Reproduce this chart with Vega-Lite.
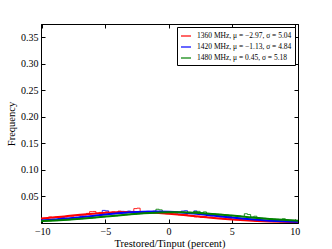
{
  "$schema": "https://vega.github.io/schema/vega-lite/v6.json",
  "width": 257,
  "height": 199,
  "autosize": "none",
  "padding": {"left": 41, "top": 24, "right": 34, "bottom": 26},
  "background": "white",
  "config": {
    "view": {"stroke": "black", "strokeWidth": 1},
    "font": "Liberation Serif",
    "axis": {"grid": false, "domainColor": "black", "tickColor": "black", "labelColor": "black", "titleColor": "black", "labelFont": "Liberation Serif", "titleFont": "Liberation Serif", "labelFontSize": 10, "titleFontSize": 10.5, "titleFontWeight": "normal", "tickSize": -4, "labelPadding": 7}
  },
  "datasets": {
    "hist": [
      {"f":"1360","x":-10.00,"y":0.0082},{"f":"1360","x":-9.75,"y":0.0078},{"f":"1360","x":-9.50,"y":0.0104},{"f":"1360","x":-9.25,"y":0.0088},
      {"f":"1360","x":-9.00,"y":0.0101},{"f":"1360","x":-8.75,"y":0.0096},{"f":"1360","x":-8.50,"y":0.0110},{"f":"1360","x":-8.25,"y":0.0102},
      {"f":"1360","x":-8.00,"y":0.0124},{"f":"1360","x":-7.75,"y":0.0118},{"f":"1360","x":-7.50,"y":0.0129},{"f":"1360","x":-7.25,"y":0.0135},
      {"f":"1360","x":-7.00,"y":0.0148},{"f":"1360","x":-6.75,"y":0.0140},{"f":"1360","x":-6.50,"y":0.0172},{"f":"1360","x":-6.25,"y":0.0205},
      {"f":"1360","x":-6.00,"y":0.0208},{"f":"1360","x":-5.75,"y":0.0176},{"f":"1360","x":-5.50,"y":0.0190},{"f":"1360","x":-5.25,"y":0.0182},
      {"f":"1360","x":-5.00,"y":0.0199},{"f":"1360","x":-4.75,"y":0.0186},{"f":"1360","x":-4.50,"y":0.0201},{"f":"1360","x":-4.25,"y":0.0192},
      {"f":"1360","x":-4.00,"y":0.0215},{"f":"1360","x":-3.75,"y":0.0188},{"f":"1360","x":-3.50,"y":0.0206},{"f":"1360","x":-3.25,"y":0.0197},
      {"f":"1360","x":-3.00,"y":0.0179},{"f":"1360","x":-2.75,"y":0.0262},{"f":"1360","x":-2.50,"y":0.0270},{"f":"1360","x":-2.25,"y":0.0195},
      {"f":"1360","x":-2.00,"y":0.0178},{"f":"1360","x":-1.75,"y":0.0200},{"f":"1360","x":-1.50,"y":0.0187},{"f":"1360","x":-1.25,"y":0.0209},
      {"f":"1360","x":-1.00,"y":0.0196},{"f":"1360","x":-0.75,"y":0.0176},{"f":"1360","x":-0.50,"y":0.0183},{"f":"1360","x":-0.25,"y":0.0165},
      {"f":"1360","x":0.00,"y":0.0170},{"f":"1360","x":0.25,"y":0.0158},{"f":"1360","x":0.50,"y":0.0162},{"f":"1360","x":0.75,"y":0.0145},
      {"f":"1360","x":1.00,"y":0.0138},{"f":"1360","x":1.25,"y":0.0150},{"f":"1360","x":1.50,"y":0.0128},{"f":"1360","x":1.75,"y":0.0121},
      {"f":"1360","x":2.00,"y":0.0106},{"f":"1360","x":2.25,"y":0.0118},{"f":"1360","x":2.50,"y":0.0098},{"f":"1360","x":2.75,"y":0.0112},
      {"f":"1360","x":3.00,"y":0.0094},{"f":"1360","x":3.25,"y":0.0102},{"f":"1360","x":3.50,"y":0.0085},{"f":"1360","x":3.75,"y":0.0078},
      {"f":"1360","x":4.00,"y":0.0084},{"f":"1360","x":4.25,"y":0.0070},{"f":"1360","x":4.50,"y":0.0062},{"f":"1360","x":4.75,"y":0.0073},
      {"f":"1360","x":5.00,"y":0.0058},{"f":"1360","x":5.25,"y":0.0052},{"f":"1360","x":5.50,"y":0.0060},{"f":"1360","x":5.75,"y":0.0046},
      {"f":"1360","x":6.00,"y":0.0043},{"f":"1360","x":6.25,"y":0.0038},{"f":"1360","x":6.50,"y":0.0040},{"f":"1360","x":6.75,"y":0.0031},
      {"f":"1360","x":7.00,"y":0.0029},{"f":"1360","x":7.25,"y":0.0025},{"f":"1360","x":7.50,"y":0.0027},{"f":"1360","x":7.75,"y":0.0020},
      {"f":"1360","x":8.00,"y":0.0020},{"f":"1360","x":8.25,"y":0.0016},{"f":"1360","x":8.50,"y":0.0017},{"f":"1360","x":8.75,"y":0.0013},
      {"f":"1360","x":9.00,"y":0.0012},{"f":"1360","x":9.25,"y":0.0011},{"f":"1360","x":9.50,"y":0.0009},{"f":"1360","x":9.75,"y":0.0008},
      {"f":"1360","x":10.00,"y":0.0008},

      {"f":"1420","x":-10.00,"y":0.0042},{"f":"1420","x":-9.75,"y":0.0045},{"f":"1420","x":-9.50,"y":0.0048},{"f":"1420","x":-9.25,"y":0.0052},
      {"f":"1420","x":-9.00,"y":0.0056},{"f":"1420","x":-8.75,"y":0.0080},{"f":"1420","x":-8.50,"y":0.0095},{"f":"1420","x":-8.25,"y":0.0068},
      {"f":"1420","x":-8.00,"y":0.0076},{"f":"1420","x":-7.75,"y":0.0082},{"f":"1420","x":-7.50,"y":0.0090},{"f":"1420","x":-7.25,"y":0.0094},
      {"f":"1420","x":-7.00,"y":0.0125},{"f":"1420","x":-6.75,"y":0.0108},{"f":"1420","x":-6.50,"y":0.0112},{"f":"1420","x":-6.25,"y":0.0118},
      {"f":"1420","x":-6.00,"y":0.0128},{"f":"1420","x":-5.75,"y":0.0132},{"f":"1420","x":-5.50,"y":0.0140},{"f":"1420","x":-5.25,"y":0.0228},
      {"f":"1420","x":-5.00,"y":0.0220},{"f":"1420","x":-4.75,"y":0.0160},{"f":"1420","x":-4.50,"y":0.0168},{"f":"1420","x":-4.25,"y":0.0172},
      {"f":"1420","x":-4.00,"y":0.0205},{"f":"1420","x":-3.75,"y":0.0210},{"f":"1420","x":-3.50,"y":0.0182},{"f":"1420","x":-3.25,"y":0.0215},
      {"f":"1420","x":-3.00,"y":0.0208},{"f":"1420","x":-2.75,"y":0.0192},{"f":"1420","x":-2.50,"y":0.0198},{"f":"1420","x":-2.25,"y":0.0205},
      {"f":"1420","x":-2.00,"y":0.0200},{"f":"1420","x":-1.75,"y":0.0210},{"f":"1420","x":-1.50,"y":0.0202},{"f":"1420","x":-1.25,"y":0.0212},
      {"f":"1420","x":-1.00,"y":0.0206},{"f":"1420","x":-0.75,"y":0.0204},{"f":"1420","x":-0.50,"y":0.0202},{"f":"1420","x":-0.25,"y":0.0200},
      {"f":"1420","x":0.00,"y":0.0201},{"f":"1420","x":0.25,"y":0.0196},{"f":"1420","x":0.50,"y":0.0194},{"f":"1420","x":0.75,"y":0.0189},
      {"f":"1420","x":1.00,"y":0.0215},{"f":"1420","x":1.25,"y":0.0222},{"f":"1420","x":1.50,"y":0.0190},{"f":"1420","x":1.75,"y":0.0180},
      {"f":"1420","x":2.00,"y":0.0218},{"f":"1420","x":2.25,"y":0.0176},{"f":"1420","x":2.50,"y":0.0168},{"f":"1420","x":2.75,"y":0.0158},
      {"f":"1420","x":3.00,"y":0.0150},{"f":"1420","x":3.25,"y":0.0142},{"f":"1420","x":3.50,"y":0.0148},{"f":"1420","x":3.75,"y":0.0128},
      {"f":"1420","x":4.00,"y":0.0122},{"f":"1420","x":4.25,"y":0.0110},{"f":"1420","x":4.50,"y":0.0102},{"f":"1420","x":4.75,"y":0.0115},
      {"f":"1420","x":5.00,"y":0.0094},{"f":"1420","x":5.25,"y":0.0088},{"f":"1420","x":5.50,"y":0.0080},{"f":"1420","x":5.75,"y":0.0076},
      {"f":"1420","x":6.00,"y":0.0070},{"f":"1420","x":6.25,"y":0.0064},{"f":"1420","x":6.50,"y":0.0058},{"f":"1420","x":6.75,"y":0.0054},
      {"f":"1420","x":7.00,"y":0.0050},{"f":"1420","x":7.25,"y":0.0046},{"f":"1420","x":7.50,"y":0.0042},{"f":"1420","x":7.75,"y":0.0038},
      {"f":"1420","x":8.00,"y":0.0035},{"f":"1420","x":8.25,"y":0.0032},{"f":"1420","x":8.50,"y":0.0029},{"f":"1420","x":8.75,"y":0.0026},
      {"f":"1420","x":9.00,"y":0.0023},{"f":"1420","x":9.25,"y":0.0021},{"f":"1420","x":9.50,"y":0.0019},{"f":"1420","x":9.75,"y":0.0017},
      {"f":"1420","x":10.00,"y":0.0017},

      {"f":"1480","x":-10.00,"y":0.0026},{"f":"1480","x":-9.75,"y":0.0029},{"f":"1480","x":-9.50,"y":0.0030},{"f":"1480","x":-9.25,"y":0.0035},
      {"f":"1480","x":-9.00,"y":0.0036},{"f":"1480","x":-8.75,"y":0.0041},{"f":"1480","x":-8.50,"y":0.0044},{"f":"1480","x":-8.25,"y":0.0049},
      {"f":"1480","x":-8.00,"y":0.0051},{"f":"1480","x":-7.75,"y":0.0056},{"f":"1480","x":-7.50,"y":0.0060},{"f":"1480","x":-7.25,"y":0.0063},
      {"f":"1480","x":-7.00,"y":0.0069},{"f":"1480","x":-6.75,"y":0.0074},{"f":"1480","x":-6.50,"y":0.0080},{"f":"1480","x":-6.25,"y":0.0083},
      {"f":"1480","x":-6.00,"y":0.0090},{"f":"1480","x":-5.75,"y":0.0094},{"f":"1480","x":-5.50,"y":0.0101},{"f":"1480","x":-5.25,"y":0.0105},
      {"f":"1480","x":-5.00,"y":0.0112},{"f":"1480","x":-4.75,"y":0.0115},{"f":"1480","x":-4.50,"y":0.0123},{"f":"1480","x":-4.25,"y":0.0127},
      {"f":"1480","x":-4.00,"y":0.0134},{"f":"1480","x":-3.75,"y":0.0137},{"f":"1480","x":-3.50,"y":0.0144},{"f":"1480","x":-3.25,"y":0.0148},
      {"f":"1480","x":-3.00,"y":0.0155},{"f":"1480","x":-2.75,"y":0.0157},{"f":"1480","x":-2.50,"y":0.0164},{"f":"1480","x":-2.25,"y":0.0167},
      {"f":"1480","x":-2.00,"y":0.0173},{"f":"1480","x":-1.75,"y":0.0175},{"f":"1480","x":-1.50,"y":0.0195},{"f":"1480","x":-1.25,"y":0.0180},
      {"f":"1480","x":-1.00,"y":0.0250},{"f":"1480","x":-0.75,"y":0.0238},{"f":"1480","x":-0.50,"y":0.0184},{"f":"1480","x":-0.25,"y":0.0190},
      {"f":"1480","x":0.00,"y":0.0193},{"f":"1480","x":0.25,"y":0.0192},{"f":"1480","x":0.50,"y":0.0193},{"f":"1480","x":0.75,"y":0.0190},
      {"f":"1480","x":1.00,"y":0.0192},{"f":"1480","x":1.25,"y":0.0189},{"f":"1480","x":1.50,"y":0.0189},{"f":"1480","x":1.75,"y":0.0185},
      {"f":"1480","x":2.00,"y":0.0208},{"f":"1480","x":2.25,"y":0.0210},{"f":"1480","x":2.50,"y":0.0180},{"f":"1480","x":2.75,"y":0.0200},
      {"f":"1480","x":3.00,"y":0.0172},{"f":"1480","x":3.25,"y":0.0165},{"f":"1480","x":3.50,"y":0.0163},{"f":"1480","x":3.75,"y":0.0156},
      {"f":"1480","x":4.00,"y":0.0153},{"f":"1480","x":4.25,"y":0.0146},{"f":"1480","x":4.50,"y":0.0143},{"f":"1480","x":4.75,"y":0.0135},
      {"f":"1480","x":5.00,"y":0.0132},{"f":"1480","x":5.25,"y":0.0125},{"f":"1480","x":5.50,"y":0.0121},{"f":"1480","x":5.75,"y":0.0113},
      {"f":"1480","x":6.00,"y":0.0165},{"f":"1480","x":6.25,"y":0.0150},{"f":"1480","x":6.50,"y":0.0102},{"f":"1480","x":6.75,"y":0.0118},
      {"f":"1480","x":7.00,"y":0.0088},{"f":"1480","x":7.25,"y":0.0081},{"f":"1480","x":7.50,"y":0.0078},{"f":"1480","x":7.75,"y":0.0071},
      {"f":"1480","x":8.00,"y":0.0068},{"f":"1480","x":8.25,"y":0.0062},{"f":"1480","x":8.50,"y":0.0059},{"f":"1480","x":8.75,"y":0.0053},
      {"f":"1480","x":9.00,"y":0.0070},{"f":"1480","x":9.25,"y":0.0046},{"f":"1480","x":9.50,"y":0.0041},{"f":"1480","x":9.75,"y":0.0039},
      {"f":"1480","x":10.00,"y":0.0039}
    ],
    "fits": [
      {"f":"1360","x":-11,"y":0.00556},{"f":"1360","x":-10,"y":0.00748},{"f":"1360","x":-9,"y":0.00967},{"f":"1360","x":-8,"y":0.01203},
      {"f":"1360","x":-7,"y":0.01438},{"f":"1360","x":-6,"y":0.01652},{"f":"1360","x":-5,"y":0.01825},{"f":"1360","x":-4,"y":0.01938},
      {"f":"1360","x":-3,"y":0.01979},{"f":"1360","x":-2,"y":0.01943},{"f":"1360","x":-1,"y":0.01833},{"f":"1360","x":0,"y":0.01664},
      {"f":"1360","x":1,"y":0.01451},{"f":"1360","x":2,"y":0.01217},{"f":"1360","x":3,"y":0.00981},{"f":"1360","x":4,"y":0.00761},
      {"f":"1360","x":5,"y":0.00567},{"f":"1360","x":6,"y":0.00406},{"f":"1360","x":7,"y":0.00280},{"f":"1360","x":8,"y":0.00185},
      {"f":"1360","x":9,"y":0.00118},{"f":"1360","x":10,"y":0.00072},{"f":"1360","x":11,"y":0.00042},

      {"f":"1420","x":-11,"y":0.00258},{"f":"1420","x":-10,"y":0.00385},{"f":"1420","x":-9,"y":0.00549},{"f":"1420","x":-8,"y":0.00753},
      {"f":"1420","x":-7,"y":0.00988},{"f":"1420","x":-6,"y":0.01242},{"f":"1420","x":-5,"y":0.01497},{"f":"1420","x":-4,"y":0.01729},
      {"f":"1420","x":-3,"y":0.01913},{"f":"1420","x":-2,"y":0.02028},{"f":"1420","x":-1,"y":0.02060},{"f":"1420","x":0,"y":0.02006},
      {"f":"1420","x":1,"y":0.01871},{"f":"1420","x":2,"y":0.01672},{"f":"1420","x":3,"y":0.01432},{"f":"1420","x":4,"y":0.01175},
      {"f":"1420","x":5,"y":0.00924},{"f":"1420","x":6,"y":0.00696},{"f":"1420","x":7,"y":0.00503},{"f":"1420","x":8,"y":0.00348},
      {"f":"1420","x":9,"y":0.00231},{"f":"1420","x":10,"y":0.00147},{"f":"1420","x":11,"y":0.00089},

      {"f":"1480","x":-11,"y":0.00167},{"f":"1480","x":-10,"y":0.00252},{"f":"1480","x":-9,"y":0.00365},{"f":"1480","x":-8,"y":0.00509},
      {"f":"1480","x":-7,"y":0.00684},{"f":"1480","x":-6,"y":0.00887},{"f":"1480","x":-5,"y":0.01107},{"f":"1480","x":-4,"y":0.01331},
      {"f":"1480","x":-3,"y":0.01542},{"f":"1480","x":-2,"y":0.01721},{"f":"1480","x":-1,"y":0.01851},{"f":"1480","x":0,"y":0.01918},
      {"f":"1480","x":1,"y":0.01914},{"f":"1480","x":2,"y":0.01841},{"f":"1480","x":3,"y":0.01705},{"f":"1480","x":4,"y":0.01522},
      {"f":"1480","x":5,"y":0.01309},{"f":"1480","x":6,"y":0.01084},{"f":"1480","x":7,"y":0.00865},{"f":"1480","x":8,"y":0.00665},
      {"f":"1480","x":9,"y":0.00493},{"f":"1480","x":10,"y":0.00352},{"f":"1480","x":11,"y":0.00242}
    ]
  },
  "layer": [
    {
      "data": {"name": "hist"},
      "mark": {"type": "line", "interpolate": "step-after", "strokeWidth": 1, "opacity": 0.85, "clip": true},
      "encoding": {
        "x": {"field": "x", "type": "quantitative", "scale": {"domain": [-10.1, 10.25], "nice": false, "zero": false},
              "axis": {"values": [-10, -5, 0, 5, 10], "format": "d", "title": "Trestored/Tinput (percent)", "titlePadding": 2}},
        "y": {"field": "y", "type": "quantitative", "scale": {"domain": [-0.001, 0.375], "nice": false, "zero": false},
              "axis": {"values": [0.05, 0.1, 0.15, 0.2, 0.25, 0.3, 0.35], "format": ".2f", "title": "Frequency", "titlePadding": 4}},
        "color": {"field": "f", "type": "nominal",
                  "scale": {"domain": ["1360", "1420", "1480"], "range": ["#ff0000", "#0000ff", "#008000"]},
                  "legend": {"orient": "top-right", "offset": 3, "title": null, "symbolType": "stroke", "symbolStrokeWidth": 1.2, "symbolSize": 100,
                             "labelFontSize": 7.5, "labelFont": "Liberation Serif", "labelColor": "black", "rowPadding": 1, "padding": 3,
                             "strokeColor": "black", "fillColor": "white", "cornerRadius": 0, "symbolOpacity": 1, "labelOffset": 5,
                             "labelExpr": "datum.label == '1360' ? '1360 MHz, μ = −2.97, σ = 5.04' : datum.label == '1420' ? '1420 MHz, μ = −1.13, σ = 4.84' : '1480 MHz, μ = 0.45, σ = 5.18'"}},
        "detail": {"field": "f"}
      }
    },
    {
      "data": {"name": "fits"},
      "mark": {"type": "line", "interpolate": "monotone", "strokeWidth": 2, "clip": true},
      "encoding": {
        "x": {"field": "x", "type": "quantitative", "axis": {"orient": "top", "values": [-10, -5, 0, 5, 10], "labels": false, "title": null}},
        "y": {"field": "y", "type": "quantitative", "axis": {"orient": "right", "values": [0.05, 0.1, 0.15, 0.2, 0.25, 0.3, 0.35], "labels": false, "title": null}},
        "color": {"field": "f", "type": "nominal"}
      }
    }
  ],
  "resolve": {"axis": {"x": "independent", "y": "independent"}}
}
